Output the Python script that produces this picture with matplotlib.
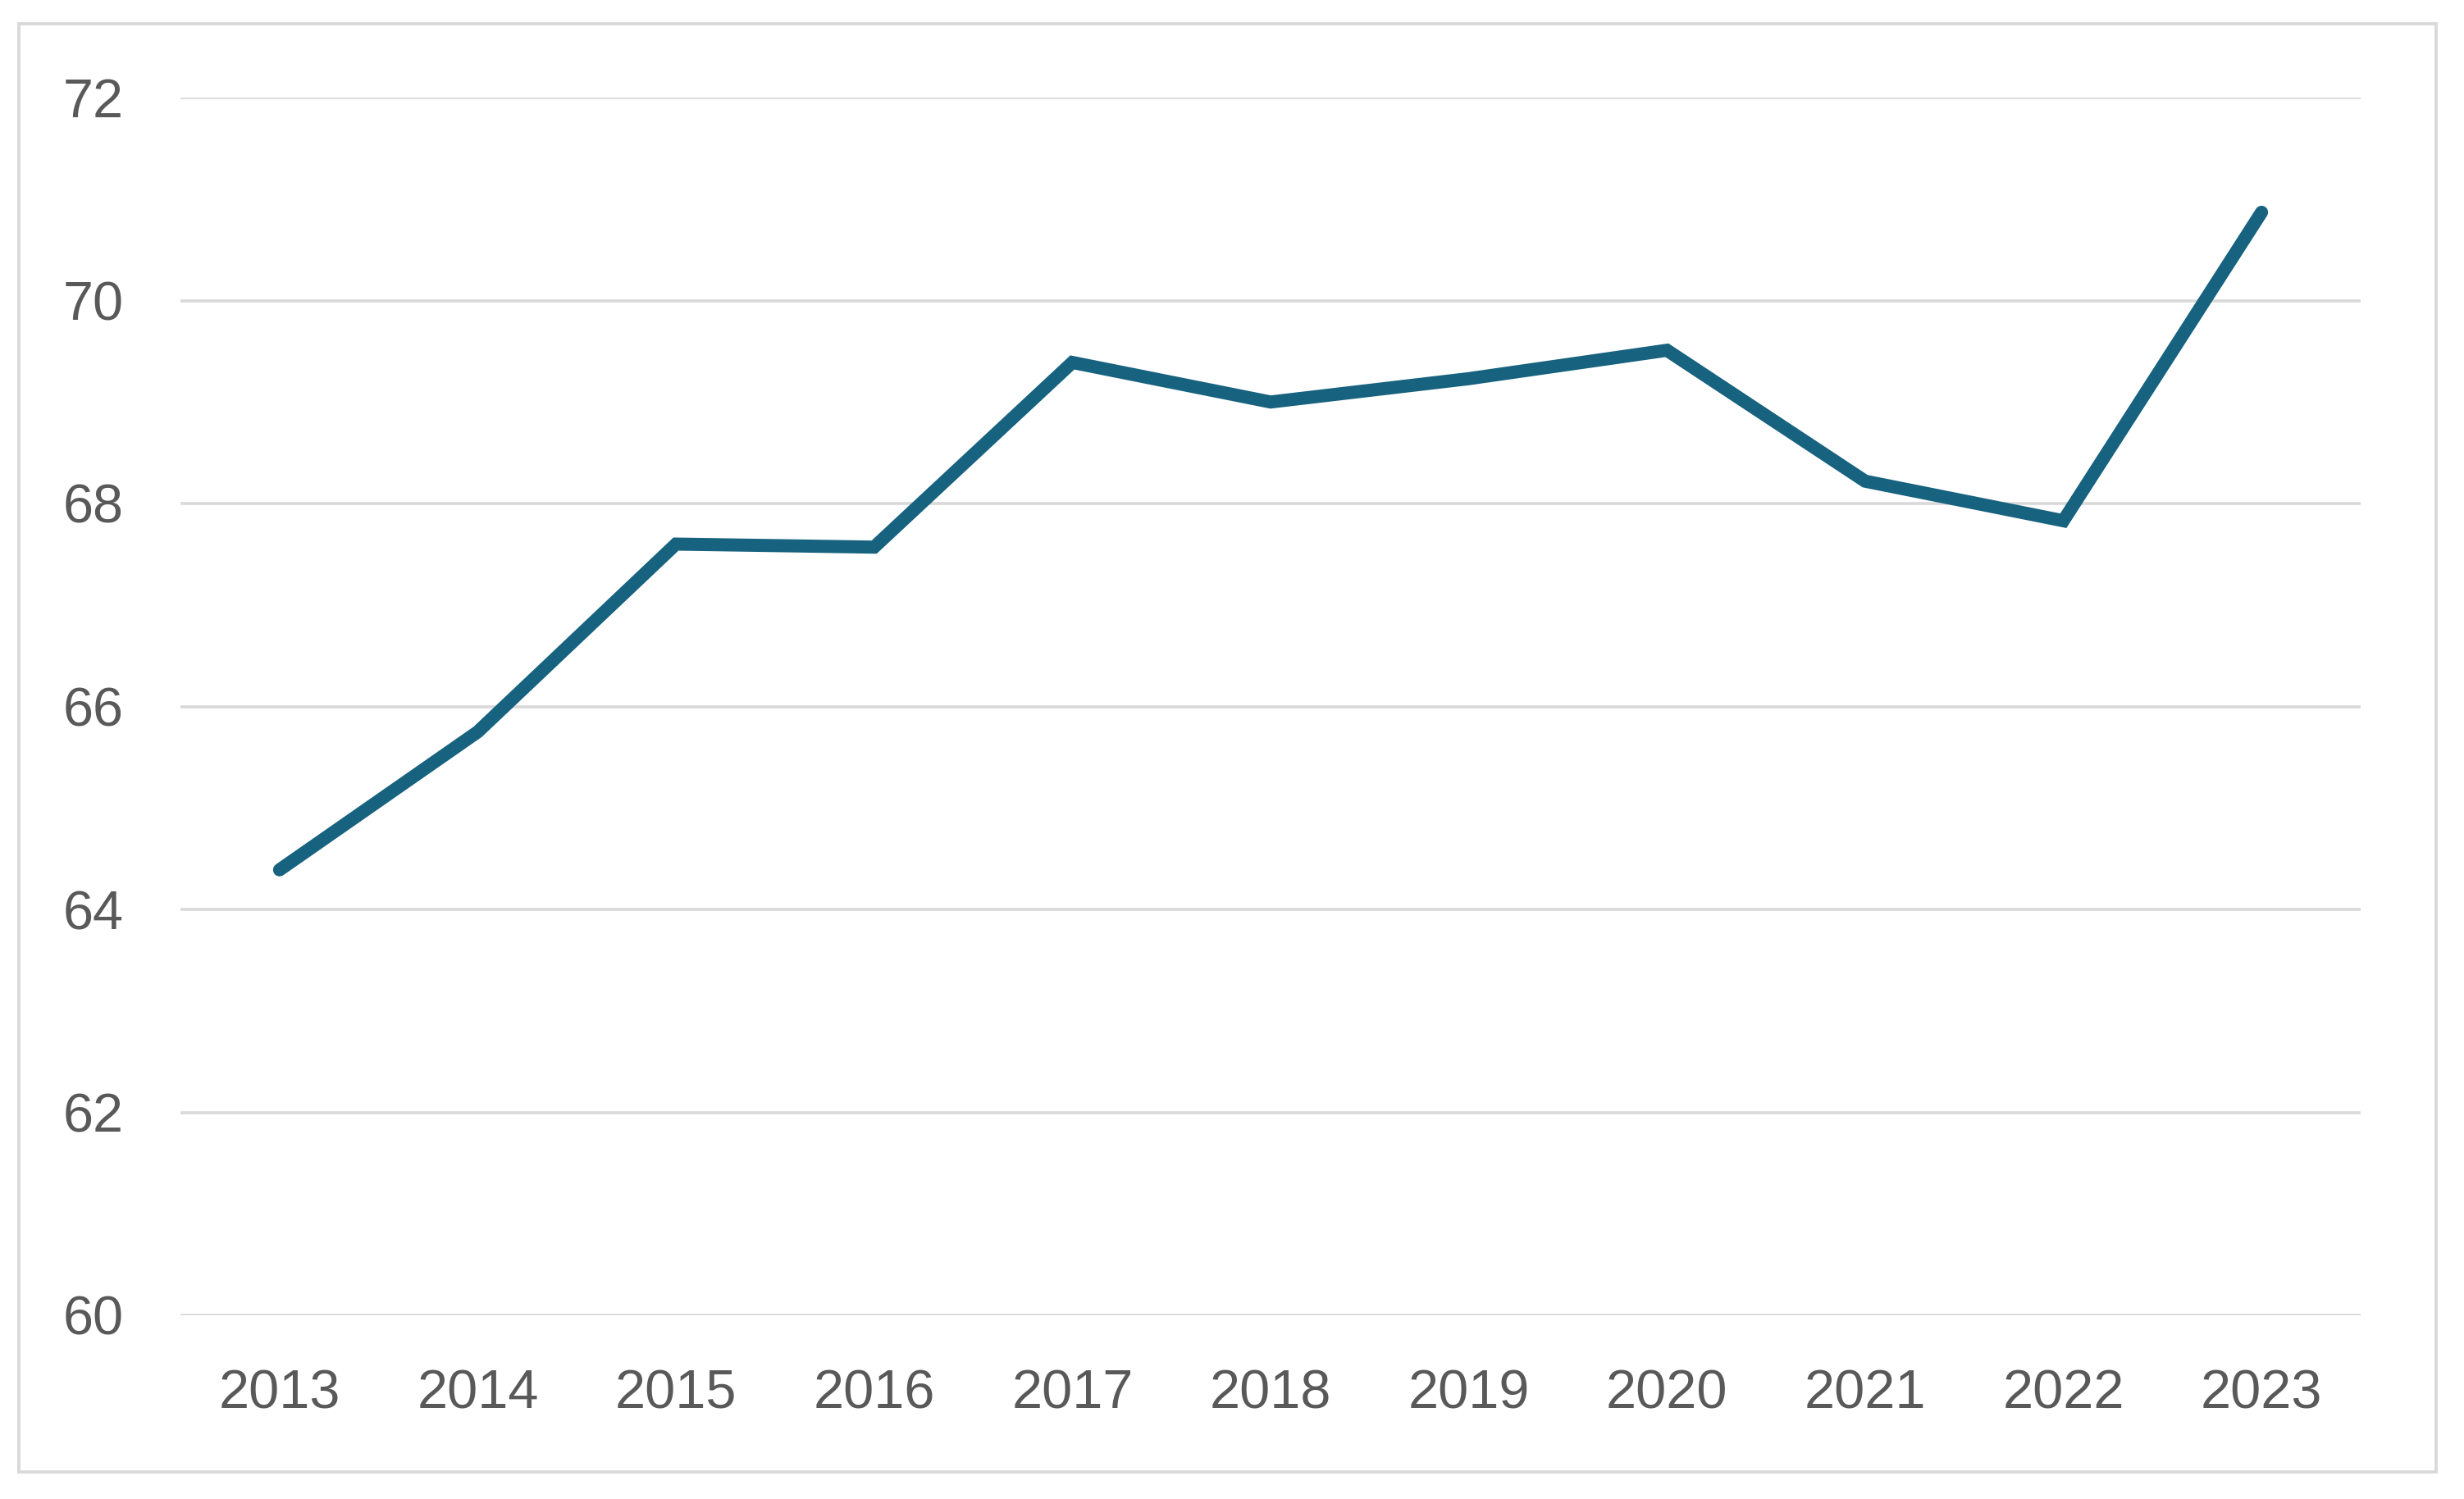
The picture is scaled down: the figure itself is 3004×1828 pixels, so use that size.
import numpy as np
import matplotlib
matplotlib.use("Agg")
import matplotlib.pyplot as plt
from matplotlib.patches import Rectangle

# values
years = ["2013", "2014", "2015", "2016", "2017", "2018", "2019", "2020", "2021", "2022", "2023"]
values = [64.39, 65.75, 67.60, 67.57, 69.39, 69.00, 69.23, 69.51, 68.22, 67.83, 70.87]
yticks = [60, 62, 64, 66, 68, 70, 72]

lineColor = "#17627f"
gridColor = "#d9d9d9"
textColor = "#595959"

plt.rcParams['font.family'] = ['Liberation Sans', 'DejaVu Sans']

fig = plt.figure(figsize=(30.04, 18.28), dpi=100)
ax = fig.add_axes([220 / 3004, 1 - 1604 / 1828, (2878 - 220) / 3004, (1604 - 119) / 1828])

x = np.arange(len(years))
ax.plot(x, values, color=lineColor, linewidth=11.5, solid_capstyle="round",
        solid_joinstyle="miter", zorder=3)

ax.set_xlim(-0.5, len(years) - 0.5)
ax.set_ylim(60, 72)
ax.set_yticks(yticks)
ax.set_yticklabels([str(v) for v in yticks])
ax.set_xticks(x)
ax.set_xticklabels(years)

ax.grid(True, axis="y", color=gridColor, linewidth=2.6, zorder=1)
ax.set_axisbelow(True)
for s in ax.spines.values():
    s.set_visible(False)
ax.tick_params(axis="both", length=0, labelsize=48, labelcolor=textColor)
ax.tick_params(axis="y", pad=50)
ax.tick_params(axis="x", pad=47)

# outer chart border
fig.patches.append(Rectangle((23 / 3004, 1 - 1795 / 1828), (2970 - 23) / 3004, (1795 - 29) / 1828,
                             transform=fig.transFigure, fill=False, edgecolor=gridColor,
                             linewidth=2.8))

fig.savefig("out.png", dpi=100)
